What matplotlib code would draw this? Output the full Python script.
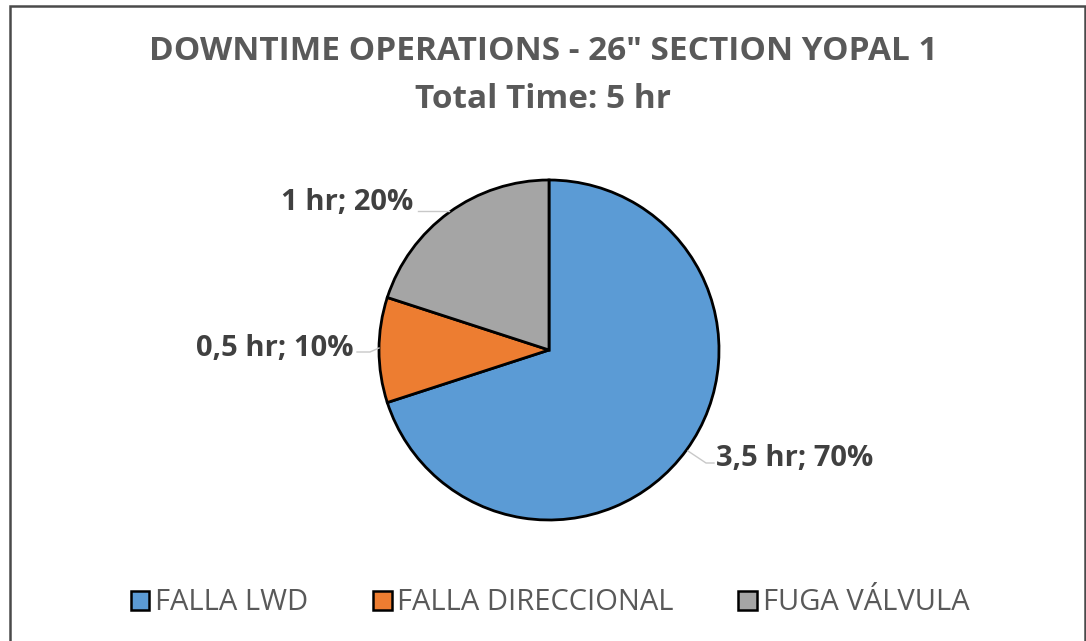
import matplotlib.pyplot as plt
from matplotlib.patches import Rectangle, Patch

# data
categories = ['FALLA LWD', 'FALLA DIRECCIONAL', 'FUGA VÁLVULA']
hours = [3.5, 0.5, 1.0]
labels = ['3,5 hr; 70%', '0,5 hr; 10%', '1 hr; 20%']
colors = ['#5B9BD5', '#ED7D31', '#A5A5A5']

W, H = 1086, 641
plt.rcParams['font.family'] = ['Open Sans', 'DejaVu Sans']
fig = plt.figure(figsize=(W / 100, H / 100), dpi=100)

# chart border
fig.patches.append(Rectangle((10 / W, -0.01), (1085 - 10) / W, (H - 6) / H + 0.01,
                             transform=fig.transFigure, fill=False,
                             edgecolor='#4a4a4a', linewidth=1.8))

# pie axes: centre (549, 350), radius 170 px
cx, cy, r = 549, 350, 170
ax = fig.add_axes([(cx - r) / W, (H - cy - r) / H, 2 * r / W, 2 * r / H])
wedges, _ = ax.pie(hours, colors=colors, startangle=90, counterclock=False,
                   radius=1.0, wedgeprops=dict(edgecolor='black', linewidth=2))
ax.set_xlim(-1, 1)
ax.set_ylim(-1, 1)
ax.set_aspect('equal')


def px(x, y):
    return ((x - cx) / r, (cy - y) / r)


txt = dict(fontsize=21, fontweight='bold', color='#404040', va='center')
line = dict(color='#c8c8c8', lw=1)
# 3,5 hr; 70%
ax.plot(*zip(px(688, 451), px(706, 463), px(714, 463)), **line)
ax.text(*px(716, 458), labels[0], ha='left', **txt)
# 0,5 hr; 10%
ax.plot(*zip(px(379, 348), px(370, 352), px(357, 352)), **line)
ax.text(*px(354, 349), labels[1], ha='right', **txt)
# 1 hr; 20%
ax.plot(*zip(px(449, 211), px(418, 211)), **line)
ax.text(*px(413, 203), labels[2], ha='right', **txt)
for art in ax.lines + ax.texts:
    art.set_clip_on(False)

fig.text(0.5, 1 - 52 / H, 'DOWNTIME OPERATIONS - 26" SECTION YOPAL 1', ha='center', va='center',
         fontsize=24, fontweight='bold', color='#595959')
fig.text(0.5, 1 - 99 / H, 'Total Time: 5 hr', ha='center', va='center',
         fontsize=24, fontweight='bold', color='#595959')

handles = [Patch(facecolor=c, edgecolor='black', linewidth=1.8) for c in colors]
fig.legend(handles, categories, loc='center', bbox_to_anchor=(550 / W, 1 - 603 / H), ncol=3,
           frameon=False, fontsize=21, labelcolor='#595959', handlelength=0.65,
           handleheight=0.65, handletextpad=0.2, columnspacing=2.2)

fig.savefig('out.png', dpi=100)
